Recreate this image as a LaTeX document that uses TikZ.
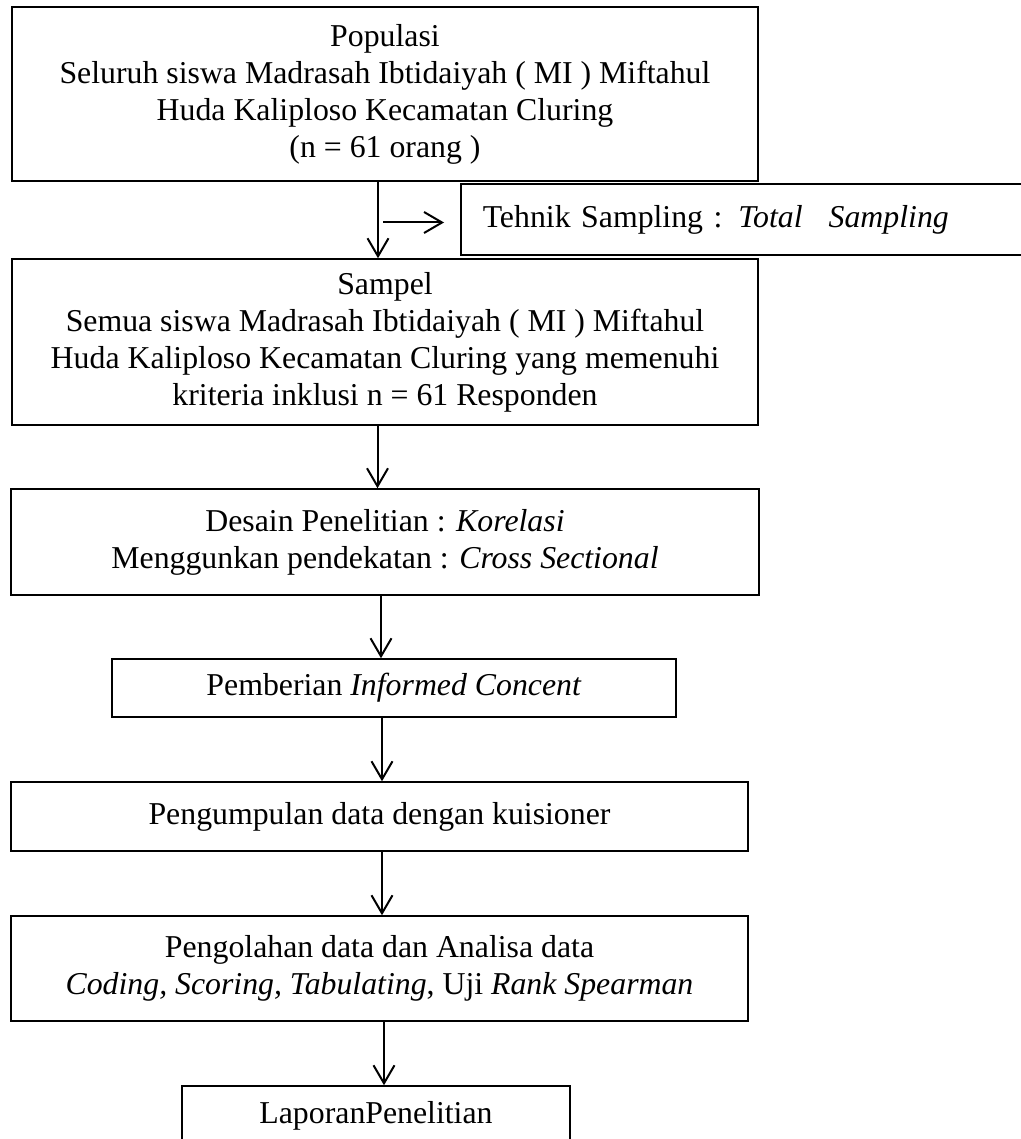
\documentclass[tikz,border=0pt]{standalone}
\usepackage{fontspec}
\setmainfont{Liberation Serif}
\usetikzlibrary{arrows.meta}

\begin{document}
\begin{tikzpicture}[x=0.5pt, y=-0.5pt,
        kotak/.style={draw, line width=0.75pt, inner sep=0pt, align=center,
            font=\fontsize{15.9pt}{18.5pt}\selectfont},
        panah/.style={-{Straight Barb[length=9pt, width=10.5pt]}, line width=1pt}]
        % --- 余白 ---
        \useasboundingbox (0,0) rectangle (1021,1139);

        % --- ボックス ---
        \node[kotak, minimum width=373pt, minimum height=87pt] (populasi) at (385,94)
            {Populasi\\ Seluruh siswa Madrasah Ibtidaiyah ( MI ) Miftahul\\ Huda Kaliploso Kecamatan Cluring\\ (n = 61 orang )};
        \node[kotak, anchor=west, minimum height=35.5pt, inner xsep=11pt, text width=268pt, align=left] (teknik) at (460,219.5)
            {Tehnik Sampling : \textit{Total}\hspace{13pt}\textit{Sampling}};
        \node[kotak, minimum width=373pt, minimum height=83pt] (sampel) at (385,342)
            {Sampel\\ Semua siswa Madrasah Ibtidaiyah ( MI ) Miftahul\\ Huda Kaliploso Kecamatan Cluring yang memenuhi\\ kriteria inklusi n = 61 Responden};
        \node[kotak, minimum width=374pt, minimum height=53pt] (desain) at (385,542)
            {Desain Penelitian : \textit{Korelasi}\\ Menggunkan pendekatan : \textit{Cross Sectional}};
        \node[kotak, minimum width=282pt, minimum height=29pt] (informed) at (394,688)
            {Pemberian \textit{Informed Concent}};
        \node[kotak, minimum width=368.5pt, minimum height=34.5pt] (kuisioner) at (379.5,816.5)
            {Pengumpulan data dengan kuisioner};
        \node[kotak, minimum width=368.5pt, minimum height=52.5pt] (analisa) at (379.5,968.5)
            {Pengolahan data dan Analisa data\\ \textit{Coding, Scoring, Tabulating}, Uji \textit{Rank Spearman}};
        \node[kotak, minimum width=194pt, minimum height=30pt] (laporan) at (376,1116)
            {LaporanPenelitian};

        % --- 矢印 ---
        \coordinate (cabang) at (383,222.5);
        \draw[panah] ([xshift=-3.5pt]populasi.south) -- ([xshift=-3.5pt]sampel.north);
        \draw[panah, shorten >=8pt] (cabang) -- (cabang -| teknik.west);
        \draw[panah] ([xshift=-3.75pt]sampel.south) -- ([xshift=-3.75pt]desain.north);
        \draw[panah] ([xshift=-2pt]desain.south) -- ([xshift=-6.5pt]informed.north);
        \draw[panah] ([xshift=-6pt]informed.south) -- ([xshift=1.25pt]kuisioner.north);
        \draw[panah] ([xshift=1.25pt]kuisioner.south) -- ([xshift=1.25pt]analisa.north);
        \draw[panah] ([xshift=2.25pt]analisa.south) -- ([xshift=4pt]laporan.north);

    \end{tikzpicture}
\end{document}
